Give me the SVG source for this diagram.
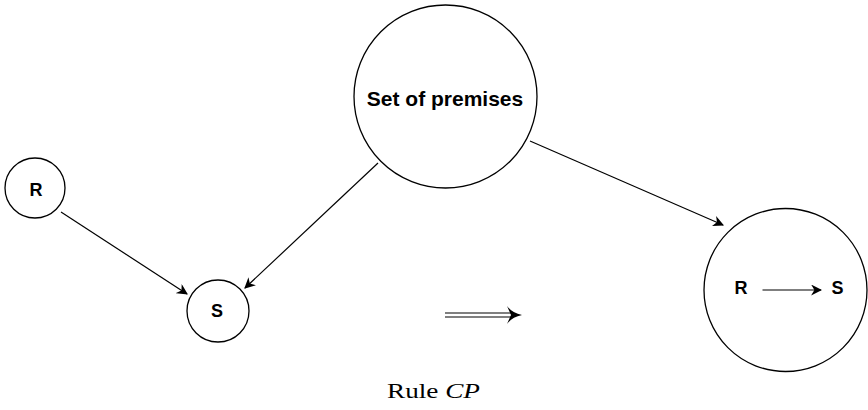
<svg xmlns="http://www.w3.org/2000/svg" width="868" height="410" viewBox="0 0 868 410">
<defs>
<marker id="ah" viewBox="0 0 10 10" refX="9" refY="5" markerWidth="11" markerHeight="11" markerUnits="userSpaceOnUse" orient="auto">
<path d="M0,0 L10,5 L0,10 L3,5 Z" fill="#000"/>
</marker>
<style>
.n{fill:#fff;stroke:#000;stroke-width:1.3}
.t{font-family:"Liberation Sans",Arial,sans-serif;font-weight:bold;text-anchor:middle;fill:#000}
.c{stroke:#000;stroke-width:1.2;fill:none}
</style>
</defs>
<rect width="868" height="410" fill="#fff"/>
<g id="premises"><circle class="n" cx="445.5" cy="96.5" r="91.5"/><text class="t" x="445" y="105.5" font-size="21">Set of premises</text></g>
<g id="R"><circle class="n" cx="35" cy="188" r="30"/><text class="t" x="36" y="196" font-size="18">R</text></g>
<g id="S"><circle class="n" cx="218" cy="311" r="31"/><text class="t" x="217" y="317" font-size="18">S</text></g>
<g id="RS"><circle class="n" cx="785.5" cy="290" r="81.5"/><text class="t" x="741" y="294" font-size="18">R</text><text class="t" x="837.5" y="294" font-size="18">S</text>
<line class="c" x1="762.5" y1="290" x2="821" y2="290" marker-end="url(#ah)"/></g>
<g id="connectors">
<line class="c" x1="61" y1="212" x2="187" y2="294" marker-end="url(#ah)"/>
<line class="c" x1="378" y1="163" x2="245" y2="288" marker-end="url(#ah)"/>
<line class="c" x1="530" y1="141" x2="723" y2="225" marker-end="url(#ah)"/>
<g id="implies">
<line class="c" x1="445" y1="313" x2="514" y2="313"/>
<line class="c" x1="445" y1="317" x2="514" y2="317"/>
<path d="M507,306 Q512,313 522,315 Q512,317 507,324 L511,315 Z" fill="#000"/>
</g>
</g>
<text x="387" y="398" font-family="'Liberation Serif','Times New Roman',serif" font-size="22" textLength="93" lengthAdjust="spacingAndGlyphs">Rule <tspan font-style="italic">CP</tspan></text>
</svg>
